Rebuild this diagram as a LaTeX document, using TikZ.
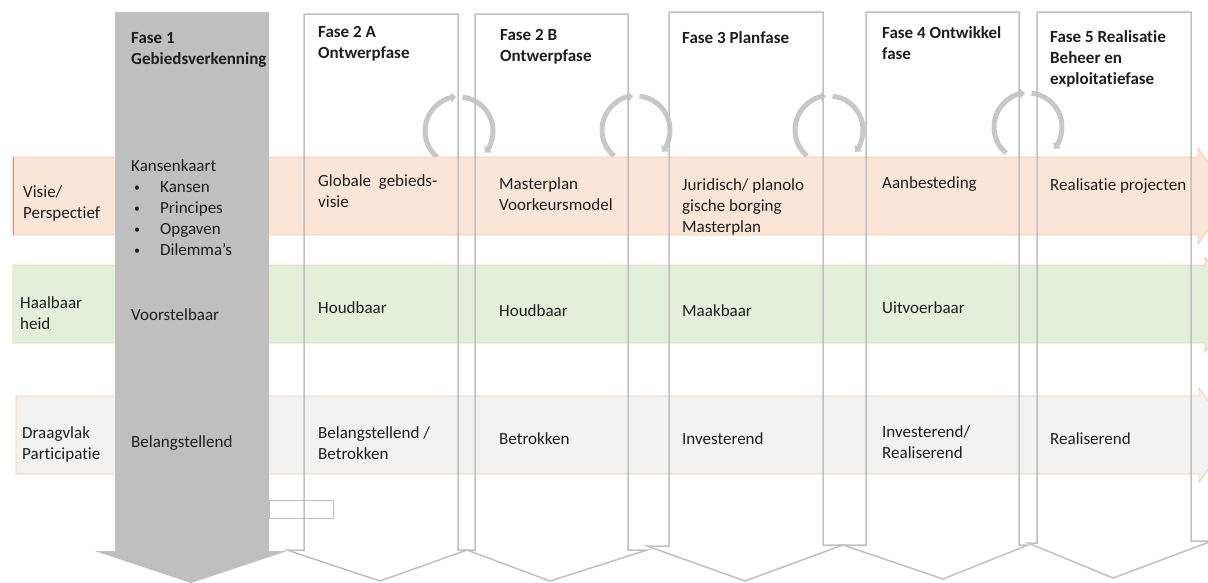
\documentclass[tikz,border=0pt]{standalone}
\usepackage{fontspec}
\setmainfont[Ligatures={NoCommon,NoRequired,NoContextual}]{Carlito}
\usetikzlibrary{arrows.meta}
\definecolor{visiefill}{RGB}{251,229,214}
\definecolor{haalfill}{RGB}{226,239,218}
\definecolor{draagfill}{RGB}{242,242,242}
\definecolor{laneline}{RGB}{247,200,172}
\definecolor{fasegrey}{RGB}{191,191,191}
\definecolor{faseline}{RGB}{192,192,192}
\definecolor{ringgrey}{RGB}{200,200,200}
\definecolor{txt}{RGB}{30,30,30}
\newcommand{\celfont}{\fontsize{17}{21}\selectfont}
\newcommand{\lijstpunt}{\hspace{3pt}\makebox[26pt][l]{\raisebox{1pt}{\fontsize{12}{12}\selectfont\textbullet}}}
\tikzset{
    fase/.style={
    draw=faseline,line width=1.5pt,line join=miter
    },
    fasefill/.style={
    fill=fasegrey,draw=none
    },
    lane/.style={
    draw=laneline,line width=0.8pt
    },
    turnarrow/.style={
    draw=ringgrey,line width=5pt,-{Triangle[length=5pt,width=10pt]}
    },
    celltext/.style={
    anchor=north west,inner sep=0pt,align=left,font=\celfont,text=txt,
    execute at begin node=\strut
    },
    headtext/.style={
    celltext,font=\celfont\bfseries
    },
}

\begin{document}
\begin{tikzpicture}[x=1pt,y=-1pt]
  \useasboundingbox (0,0) rectangle (1208,582);
  \clip (0,0) rectangle (1208,582);

  % turn arrows between the phases
  \draw[turnarrow] (459,131) ++(130:34) arc[start angle=130,end angle=265,radius=34];
  \draw[turnarrow] (459,131) ++(276:34) arc[start angle=276,end angle=400,radius=34];
  \draw[turnarrow] (636,130) ++(130:34) arc[start angle=130,end angle=265,radius=34];
  \draw[turnarrow] (636,130) ++(276:34) arc[start angle=276,end angle=400,radius=34];
  \draw[turnarrow] (829,130) ++(130:34) arc[start angle=130,end angle=265,radius=34];
  \draw[turnarrow] (829,130) ++(276:34) arc[start angle=276,end angle=400,radius=34];
  \draw[turnarrow] (1028,127) ++(130:34) arc[start angle=130,end angle=265,radius=34];
  \draw[turnarrow] (1028,127) ++(276:34) arc[start angle=276,end angle=400,radius=34];

  % lanes
  \path[lane,fill=visiefill] (13,157) -- (1198,157) -- (1198,148) -- (1232,196)
    -- (1198,244) -- (1198,235) -- (13,235) -- cycle;
  \draw[draw=red!35!laneline,line width=0.8pt] (13,157) -- (13,235);
  \path[lane,fill=haalfill] (13,265) -- (1205,265) -- (1205,257) -- (1239,304)
    -- (1205,352) -- (1205,343) -- (13,343) -- cycle;
  \path[lane,fill=draagfill] (16,396) -- (1199,396) -- (1199,388) -- (1233,435)
    -- (1199,482) -- (1199,474) -- (16,474) -- cycle;

  % phases
  \draw[fase] (304,14) -- (304,550) -- (287,550) -- (380,581) -- (467,550) -- (458,550) -- (458,14) -- cycle;
  \draw[fase] (475,14) -- (475,550) -- (467,550) -- (550,581) -- (647,550) -- (628,550) -- (628,14) -- cycle;
  \draw[fase] (669,12) -- (669,546) -- (647,546) -- (745,581) -- (843,545) -- (823,545) -- (823,12) -- cycle;
  \draw[fase] (866,12) -- (866,545) -- (843,545) -- (943,579) -- (1028,545) -- (1019,545) -- (1019,12) -- cycle;
  \draw[fase] (1037,12) -- (1037,543) -- (1028,543) -- (1113,578) -- (1212,541) -- (1191,541) -- (1191,12) -- cycle;
  \draw[draw=black!25,line width=0.6pt] (269,500) rectangle (333,518);
  \path[fasefill] (115,12) -- (115,551) -- (95,551) -- (191,583) -- (287,551) -- (269,551) -- (269,12) -- cycle;

  % row labels
  \node[celltext] (visie) at (23,185) {Visie/\\Perspectief};
  \node[celltext] (haal) at (20,296) {Haalbaar\\heid};
  \node[celltext] (draag) at (22,426) {Draagvlak\\Participatie};

  % fase 1
  \node[headtext] (head1) at (131,32) {Fase 1\\Gebiedsverkenning};
  \node[celltext] (visie1) at (131,159) {Kansenkaart\\
    \lijstpunt Kansen\\
    \lijstpunt Principes\\
    \lijstpunt Opgaven\\
    \lijstpunt Dilemma’s};
  \node[celltext] (haal1) at (131,306) {Voorstelbaar};
  \node[celltext] (draag1) at (131,433) {Belangstellend};

  % fase 2 A
  \node[headtext] (head2a) at (318,26) {Fase 2 A\\Ontwerpfase};
  \node[celltext] (visie2a) at (318,174) {Globale\ \ gebieds-\\visie};
  \node[celltext] (haal2a) at (318,299) {Houdbaar};
  \node[celltext] (draag2a) at (318,426) {Belangstellend /\\Betrokken};

  % fase 2 B
  \node[headtext] (head2b) at (500,29) {Fase 2 B\\Ontwerpfase};
  \node[celltext] (visie2b) at (499,177) {Masterplan\\Voorkeursmodel};
  \node[celltext] (haal2b) at (499,302) {Houdbaar};
  \node[celltext] (draag2b) at (499,430) {Betrokken};

  % fase 3
  \node[headtext] (head3) at (682,29) {Fase 3 Planfase};
  \node[celltext] (visie3) at (682,178) {Juridisch/ planolo\\gische borging\\Masterplan};
  \node[celltext] (haal3) at (682,302) {Maakbaar};
  \node[celltext] (draag3) at (682,430) {Investerend};

  % fase 4
  \node[headtext] (head4) at (882,26) {Fase 4 Ontwikkel\\fase};
  \node[celltext] (visie4) at (882,174) {Aanbesteding};
  \node[celltext] (haal4) at (882,299) {Uitvoerbaar};
  \node[celltext] (draag4) at (882,425) {Investerend/\\Realiserend};

  % fase 5
  \node[headtext] (head5) at (1050,30) {Fase 5 Realisatie\\Beheer en\\exploitatiefase};
  \node[celltext] (visie5) at (1050,176) {Realisatie projecten};
  \node[celltext] (draag5) at (1050,430) {Realiserend};
\end{tikzpicture}
\end{document}
